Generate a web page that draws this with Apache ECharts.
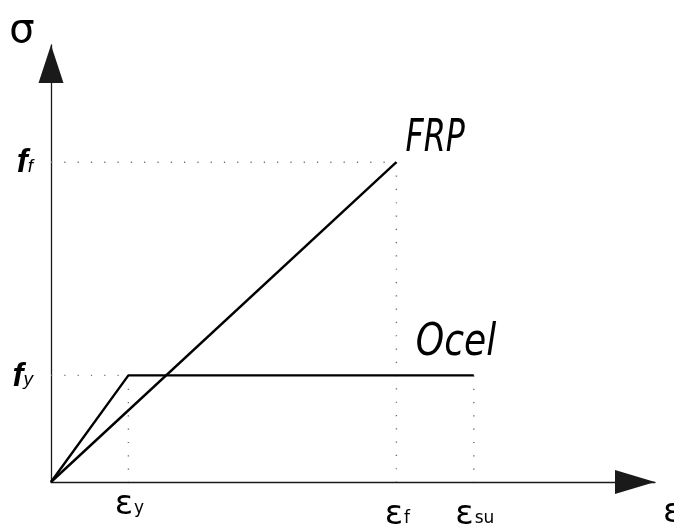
<!DOCTYPE html>
<html>
<head>
<meta charset="utf-8">
<script src="https://cdn.jsdelivr.net/npm/echarts@6.0.0/dist/echarts.min.js"></script>
<style>
  html, body { margin: 0; padding: 0; background: #ffffff; }
  #chart { width: 674px; height: 527px; }
</style>
</head>
<body>
<div id="chart"></div>
<script>
// Characteristic strains on the ε axis: εy, εf, εsu
const strainTicks = [2.05, 9.15, 11.2];
const strainTickSubs = ['y', 'f', 'su'];
// Characteristic stresses on the σ axis: fy, ff
const stressTicks = [1.0, 3.0];
const stressTickSubs = ['y', 'f'];
// Idealised stress–strain diagrams
const frpPoints = [[0, 0], [9.15, 3.0]];
const steelPoints = [[0, 0], [2.05, 1.0], [11.2, 1.0]];
const curveNames = ['FRP', 'Ocel'];
const axisNames = ['ε', 'σ'];

const [eY, eF, eSU] = strainTicks;
const [fY, fF] = stressTicks;

// Dotted projection lines from the characteristic points to the axes
const guideLines = [
  [[0, fF], [eF, fF]],
  [[eF, fF], [eF, 0]],
  [[0, fY], [eY, fY]],
  [[eY, fY], [eY, 0]],
  [[eSU, fY], [eSU, 0]]
];

const FONT = '"DejaVu Sans", "Liberation Sans", sans-serif';
const FONT_F = '"Liberation Sans", "DejaVu Sans", sans-serif';
const chart = echarts.init(document.getElementById('chart'), null, { renderer: 'canvas' });

const axisLineStyle = { color: '#1a1a1a', width: 1.3 };

const series = [];
guideLines.forEach(function (seg) {
  series.push({
    type: 'line', data: seg, symbol: 'none', silent: true, z: 1,
    lineStyle: { color: '#6e6e6e', width: 1.4, type: [1.2, 12.1] }
  });
});
series.push({
  name: curveNames[0], type: 'line', data: frpPoints, symbol: 'none', silent: true, z: 3,
  lineStyle: { color: '#000', width: 2.4 }
});
series.push({
  name: curveNames[1], type: 'line', data: steelPoints, symbol: 'none', silent: true, z: 3,
  lineStyle: { color: '#000', width: 2.4 }
});

chart.setOption({
  animation: false,
  backgroundColor: '#ffffff',
  grid: { left: 51, right: 19, top: 45, bottom: 45 },
  xAxis: {
    type: 'value', min: 0, max: 16,
    splitLine: { show: false }, axisTick: { show: false }, axisLabel: { show: false },
    axisLine: { show: true, lineStyle: axisLineStyle, symbol: ['none', 'triangle'], symbolSize: [24, 40], symbolOffset: [0, -20] }
  },
  yAxis: {
    type: 'value', min: 0, max: 4.1,
    splitLine: { show: false }, axisTick: { show: false }, axisLabel: { show: false },
    axisLine: { show: true, lineStyle: axisLineStyle, symbol: ['none', 'triangle'], symbolSize: [25, 38], symbolOffset: [0, -19] }
  },
  series: series
});

function px(x, y) { return chart.convertToPixel({ gridIndex: 0 }, [x, y]); }

const origin = px(0, 0);
const graphics = [];

// ε-axis tick labels (ε with subscript)
const xLabelDrop = [6, 16, 16];
strainTicks.forEach(function (v, i) {
  graphics.push({
    type: 'text', x: px(v, 0)[0] + 1, y: origin[1] + xLabelDrop[i],
    style: {
      text: '{e|ε}{s|' + strainTickSubs[i] + '}', align: 'center', verticalAlign: 'top',
      rich: {
        e: { fontFamily: FONT, fontSize: 34, lineHeight: 34, verticalAlign: 'bottom', fill: '#000' },
        s: { fontFamily: FONT, fontSize: 17, lineHeight: 17, verticalAlign: 'bottom', fill: '#000', padding: [0, 0, 5, 1] }
      }
    }
  });
});

// σ-axis tick labels (f with subscript)
stressTicks.forEach(function (v, i) {
  graphics.push({
    type: 'text', x: 33, y: px(0, v)[1] + 1,
    style: {
      text: '{m|f}{s|' + stressTickSubs[i] + '}', align: 'right', verticalAlign: 'middle',
      rich: {
        m: { fontFamily: FONT_F, fontSize: 33, lineHeight: 33, fontWeight: 'bold', fontStyle: 'italic', verticalAlign: 'bottom', fill: '#000' },
        s: { fontFamily: FONT_F, fontSize: 19, lineHeight: 19, fontStyle: 'italic', verticalAlign: 'bottom', fill: '#000', padding: [0, 0, 4, 0] }
      }
    }
  });
});

// Curve names next to their end points
const frpEnd = px(frpPoints[1][0], frpPoints[1][1]);
graphics.push({
  type: 'text', x: frpEnd[0] + 9, y: frpEnd[1] - 45, scaleX: 0.72,
  style: { text: curveNames[0], fontFamily: FONT, fontSize: 44, fontStyle: 'italic', fill: '#000', align: 'left', verticalAlign: 'top' }
});
const steelEnd = px(steelPoints[2][0], steelPoints[2][1]);
graphics.push({
  type: 'text', x: steelEnd[0] - 58, y: steelEnd[1] - 54, scaleX: 0.82,
  style: { text: curveNames[1], fontFamily: FONT, fontSize: 44, fontStyle: 'italic', fill: '#000', align: 'left', verticalAlign: 'top' }
});

// Axis names
graphics.push({
  type: 'text', x: 663, y: origin[1] + 14,
  style: { text: axisNames[0], fontFamily: FONT, fontSize: 34, fill: '#000', align: 'left', verticalAlign: 'top' }
});
graphics.push({
  type: 'text', x: 22, y: 32,
  style: { text: axisNames[1], fontFamily: FONT, fontSize: 40, fill: '#000', align: 'center', verticalAlign: 'middle' }
});

chart.setOption({ graphic: graphics });
</script>
</body>
</html>
